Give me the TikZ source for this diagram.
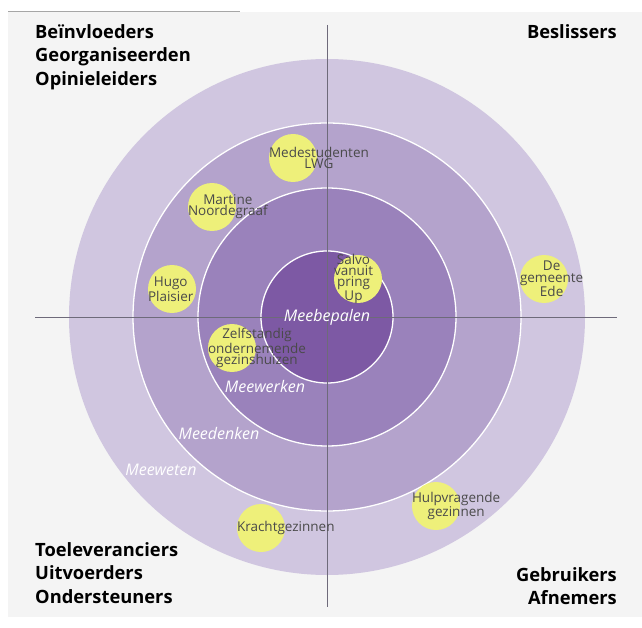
\documentclass[tikz,border=0pt]{standalone}
\usepackage{fontspec}
\setmainfont{Open Sans}
\definecolor{panelbg}{HTML}{F4F4F4}
\definecolor{ringA}{HTML}{D0C6E0}
\definecolor{ringB}{HTML}{B4A3CC}
\definecolor{ringC}{HTML}{9A82BB}
\definecolor{ringD}{HTML}{7D59A4}
\definecolor{bubblecol}{HTML}{EEF07A}
\definecolor{bubtextcol}{HTML}{4A4A4A}
\definecolor{axiscol}{HTML}{6E6A7A}
\begin{document}
\begin{tikzpicture}[x=1pt,y=-1pt,
  ring/.style={circle, inner sep=0pt},
  bubble/.style={circle, fill=bubblecol, minimum size=48pt, inner sep=0pt},
  bubtext/.style={anchor=west, align=center, inner sep=0pt, text=bubtextcol,
    font=\fontsize{13.5}{11.2}\selectfont},
  corner/.style={inner sep=0pt, font=\fontsize{18.3}{23.5}\selectfont\bfseries},
  mee/.style={inner sep=0pt, text=white, font=\fontsize{16}{18}\selectfont\itshape}]
\useasboundingbox (0,0) rectangle (642,628);
\fill[white] (0,0) rectangle (642,628);
\fill[panelbg] (8,12) rectangle (642,617);
\draw[gray!70, line width=0.8pt] (8,11) -- (240,11);
% rings
\node[ring, fill=ringA, minimum size=516pt] (outer) at (327,317) {};
\node[ring, fill=ringB, draw=white, line width=1.3pt, minimum size=388pt] (meedenkenring) at (327,317) {};
\node[ring, fill=ringC, draw=white, line width=1.3pt, minimum size=258pt] (meewerkenring) at (327,317) {};
\node[ring, fill=ringD, draw=white, line width=1.3pt, minimum size=132pt] (meebepalenring) at (327,317) {};
% axes
\coordinate (hl) at (35,317);
\coordinate (hr) at (617,317);
\coordinate (vt) at (327,25);
\coordinate (vb) at (327,607);
\draw[axiscol, line width=0.8pt] (hl) -- (hr);
\draw[axiscol, line width=0.8pt] (vt) -- (vb);
% ring labels
\node[mee] (mbp) at (327,317) {Meebepalen};
\node[mee] (mwk) at (265,386) {Meewerken};
\node[mee] (mdk) at (219,433) {Meedenken};
\node[mee] (mwt) at (161,470) {Meeweten};
% bubbles
\node[bubble] (b1) at (293,158) {};
\node[bubble] (b2) at (212,207) {};
\node[bubble] (b3) at (172,289) {};
\node[bubble] (b4) at (358,279) {};
\node[bubble] (b5) at (544,279) {};
\node[bubble] (b6) at (232,348) {};
\node[bubble] (b7) at (261,528) {};
\node[bubble] (b8) at (436,506) {};
\node[bubtext] (t1) at (b1.west) {Medestudenten\\LWG};
\node[bubtext] (t2) at (b2.west) {Martine\\Noordegraaf};
\node[bubtext] (t3) at (b3.west) {Hugo\\Plaisier};
\node[bubtext] (t4) at (b4.west) {Salvo\\vanuit\\pring\\Up};
\node[bubtext] (t5) at (b5.west) {De\\gemeente\\Ede};
\node[bubtext] (t6) at (b6.west) {Zelfstandig\\ondernemende\\gezinshuizen};
\node[bubtext] (t7) at (b7.west) {Krachtgezinnen};
\node[bubtext] (t8) at (b8.west) {Hulpvragende\\gezinnen};
% corner labels
\node[corner, anchor=north west, align=left] (tl) at (35,24) {Beïnvloeders\\Georganiseerden\\Opinieleiders};
\node[corner, anchor=north east, align=right] (tr) at (617,24) {Beslissers};
\node[corner, anchor=north west, align=left] (bl) at (35,542) {Toeleveranciers\\Uitvoerders\\Ondersteuners};
\node[corner, anchor=north east, align=right] (br) at (617,567) {Gebruikers\\Afnemers};
\end{tikzpicture}
\end{document}
